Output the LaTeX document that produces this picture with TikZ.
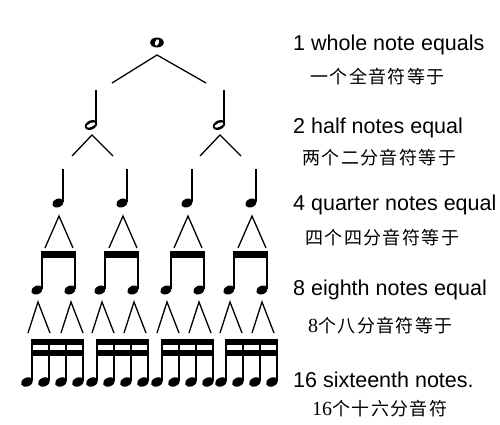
\documentclass[tikz,border=0pt]{standalone}
\usepackage{fontspec}
\setmainfont{Liberation Sans}
\newfontfamily\cjk[LetterSpace=8]{Noto Sans CJK SC}
\newfontfamily\digs{Liberation Serif}
\begin{document}
\begin{tikzpicture}[x=1pt,y=-1pt]
\tikzset{
  conn/.style={line width=1.3pt, black},
  stemline/.style={line width=1.6pt, black},
  en/.style={font=\fontsize{21.5}{24}\selectfont, anchor=base west, inner sep=0pt},
  zh/.style={font=\fontsize{18}{20}\cjk, anchor=base west, inner sep=0pt},
  fhead/.style={fill=black},
}
\fill[white] (0,0) rectangle (500,425);
\useasboundingbox (0,0) rectangle (500,425);

% whole note
\coordinate (w) at (157,42.5);
\fill[shift={(w)}] (0,0) ellipse [x radius=6.8pt, y radius=5pt];
\fill[white, shift={(w)}, rotate=-20] (0,0) ellipse [x radius=1.9pt, y radius=3.4pt];
\coordinate (wa) at (157,55);
\coordinate (wl) at (112,83);
\coordinate (wr) at (206,83);
\draw[conn] (wl) -- (wa) -- (wr);

% half notes
\foreach \x in {91,219}{
  \fill[shift={(\x,125)}, rotate=25] (0,0) ellipse [x radius=6.5pt, y radius=4.5pt];
  \fill[white, shift={(\x,125)}, rotate=25] (0,0) ellipse [x radius=4.8pt, y radius=1.9pt];
  \draw[stemline] ({\x+4.8},90) -- ({\x+4.8},124);
  \coordinate (ha) at ({\x+1},135);
  \coordinate (hl) at ({\x-19},156);
  \coordinate (hr) at ({\x+22},156);
  \draw[conn] (hl) -- (ha) -- (hr);
}

% quarter notes
\foreach \s in {63,127,192,256}{
  \fill[fhead, shift={({\s-5},203)}, rotate=25] (0,0) ellipse [x radius=6pt, y radius=4.2pt];
  \draw[stemline] (\s,169) -- (\s,202);
  \coordinate (qa) at ({\s-4},216);
  \coordinate (ql) at ({\s-18},248);
  \coordinate (qr) at ({\s+10},248);
  \draw[conn] (ql) -- (qa) -- (qr);
}

% eighth notes
\foreach \b in {42,105,171,234}{
  \fill ({\b-0.8},251) rectangle ({\b+33.8},258);
  \draw[stemline] (\b,251) -- (\b,289);
  \draw[stemline] ({\b+33},251) -- ({\b+33},289);
  \fill[fhead, shift={({\b-5},290)}, rotate=25] (0,0) ellipse [x radius=6pt, y radius=4.2pt];
  \fill[fhead, shift={({\b+28},290)}, rotate=25] (0,0) ellipse [x radius=6pt, y radius=4.2pt];
}
\foreach \a in {38,71,102,134,167,199,230,262}{
  \coordinate (ea) at (\a,302);
  \coordinate (el) at ({\a-10},333);
  \coordinate (er) at ({\a+12},333);
  \draw[conn] (el) -- (ea) -- (er);
}

% sixteenth notes
\foreach \b in {32,97,162,226}{
  \fill ({\b-0.8},339) rectangle ({\b+51.8},345);
  \fill ({\b-0.8},350) rectangle ({\b+51.8},356);
  \foreach \k in {0,17,34,51}{
    \draw[stemline] ({\b+\k},339) -- ({\b+\k},381);
    \fill[fhead, shift={({\b+\k-5},382)}, rotate=25] (0,0) ellipse [x radius=6.3pt, y radius=4.4pt];
  }
}

% texts
\node[en] (t1) at (293,51) {1 whole note equals};
\node[zh] (c1) at (310,84) {一个全音符等于};
\node[en] (t2) at (293,133) {2 half notes equal};
\node[zh] (c2) at (302,164) {两个二分音符等于};
\node[en] (t3) at (293,210) {4 quarter notes equal};
\node[zh] (c3) at (305,244) {四个四分音符等于};
\node[en] (t4) at (293,295) {8 eighth notes equal};
\node[zh] (c4) at (308,332) {{\fontsize{20}{20}\digs 8}个八分音符等于};
\node[en] (t5) at (293,387) {16 sixteenth notes.};
\node[zh] (c5) at (312,415) {{\fontsize{20}{20}\digs 16}个十六分音符};
\end{tikzpicture}
\end{document}
